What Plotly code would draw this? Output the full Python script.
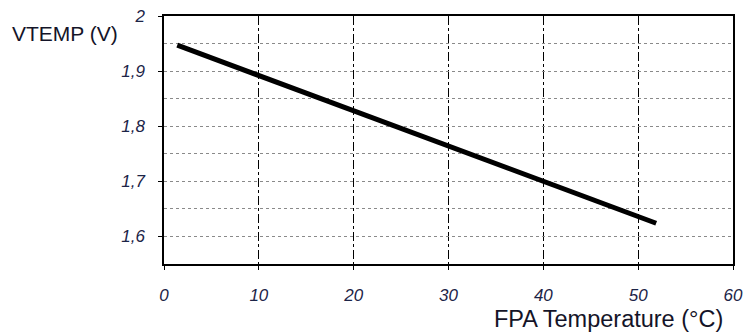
import plotly.graph_objects as go

temp_c = [1.4, 10, 20, 30, 40, 51.9]
vtemp_v = [1.947, 1.892, 1.828, 1.764, 1.700, 1.624]

x_ticks = [0, 10, 20, 30, 40, 50, 60]
y_ticks = [1.6, 1.7, 1.8, 1.9, 2.0]

fig = go.Figure()
fig.add_trace(go.Scatter(x=temp_c, y=vtemp_v, mode="lines",
                         line=dict(color="black", width=5), showlegend=False))

tickfont = dict(family="Liberation Sans, Arial", size=17, color="#1c2447", style="italic")
fig.update_xaxes(range=[0, 60], tickvals=x_ticks, showline=True, linecolor="black", linewidth=1.5,
                 mirror=True, ticks="outside", ticklen=4, tickcolor="black",
                 showgrid=True, gridcolor="black", griddash="dashdot", gridwidth=1,
                 zeroline=False, tickfont=tickfont, ticklabelstandoff=11, automargin=False)
fig.update_yaxes(range=[1.55, 2.0], tickvals=y_ticks, showline=True, linecolor="black", linewidth=1.5,
                 mirror=True, ticks="outside", ticklen=4, tickcolor="black",
                 showgrid=True, gridcolor="#8a8a8a", griddash="dot", gridwidth=1,
                 minor=dict(dtick=0.05, tick0=1.55, showgrid=True, gridcolor="#8a8a8a", griddash="dot", gridwidth=1),
                 zeroline=False, tickfont=tickfont, ticklabelstandoff=10, automargin=False)

fig.add_annotation(text="VTEMP (V)", xref="paper", yref="paper", x=-0.27, y=0.929,
                   xanchor="left", yanchor="middle", showarrow=False,
                   font=dict(family="Liberation Sans, Arial", size=21, color="#141428"))
fig.add_annotation(text="FPA Temperature (°C)", xref="paper", yref="paper", x=0.986, y=-0.22,
                   xanchor="right", yanchor="middle", showarrow=False,
                   font=dict(family="Liberation Sans, Arial", size=23.5, color="#141428"))

fig.update_layout(width=743, height=334, margin=dict(l=164, r=10, t=16, b=70),
                  plot_bgcolor="white", paper_bgcolor="white", separators=", ")
fig.write_html("out.html", config={"displayModeBar": False},
               post_script="document.body.style.margin='0';document.body.style.overflow='hidden';")
